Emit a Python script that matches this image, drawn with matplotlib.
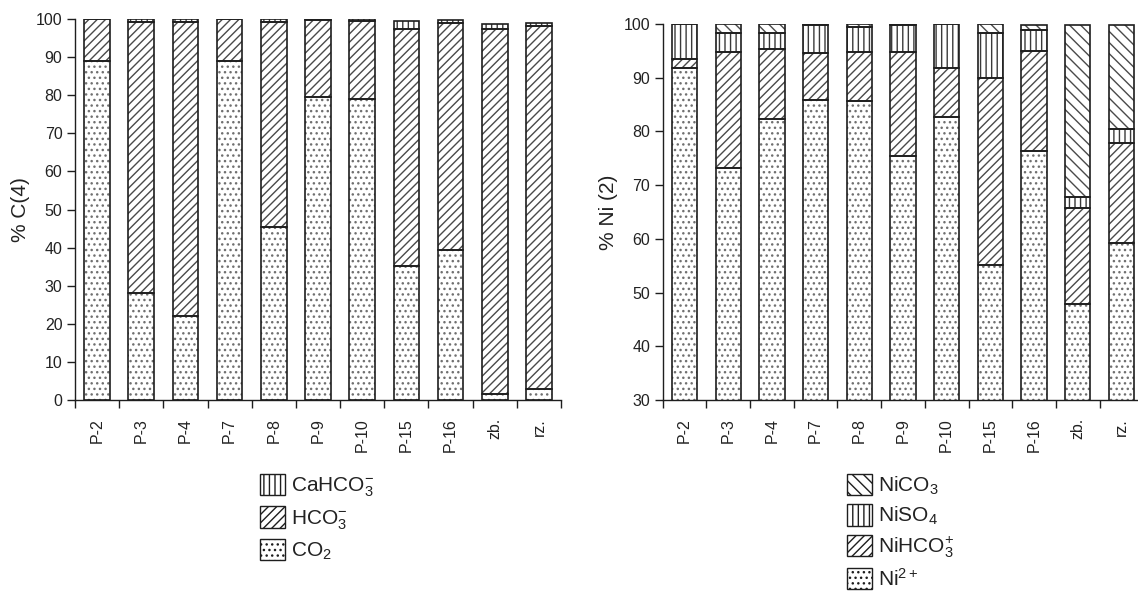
import matplotlib
matplotlib.use("Agg")
import matplotlib.pyplot as plt
from matplotlib.patches import Patch
import numpy as np

plt.rcParams['font.family'] = ['Liberation Sans', 'DejaVu Sans']
plt.rcParams['mathtext.fontset'] = 'custom'
plt.rcParams['mathtext.rm'] = 'Liberation Sans'
plt.rcParams['mathtext.it'] = 'Liberation Sans:italic'
plt.rcParams['hatch.linewidth'] = 1.0

# --- data ---
samples = ['P-2', 'P-3', 'P-4', 'P-7', 'P-8', 'P-9', 'P-10', 'P-15', 'P-16', 'zb.', 'rz.']

# left panel: % C(4)
co2 = [89.0, 28.0, 22.0, 89.0, 45.5, 79.5, 79.0, 35.2, 39.4, 1.6, 3.0]
hco3 = [11.0, 71.3, 77.3, 11.0, 53.8, 20.2, 20.5, 62.3, 59.5, 95.9, 95.2]
cahco3 = [0.0, 0.6, 0.6, 0.0, 0.6, 0.3, 0.5, 2.0, 0.9, 1.1, 0.8]

# right panel: % Ni(2)
ni2 = [91.8, 73.1, 82.3, 85.9, 85.6, 75.5, 82.6, 55.1, 76.4, 47.8, 59.3]
nihco3 = [1.7, 21.6, 13.0, 8.6, 9.1, 19.2, 9.2, 34.9, 18.6, 18.0, 18.6]
niso4 = [6.5, 3.6, 3.0, 5.3, 4.8, 5.1, 8.2, 8.3, 3.9, 1.9, 2.6]
nico3 = [0.0, 1.7, 1.7, 0.2, 0.5, 0.2, 0.0, 1.7, 0.9, 32.1, 19.3]

left_labels = ['CO$_2$', 'HCO$_3^{-}$', 'CaHCO$_3^{-}$']
right_labels = ['Ni$^{2+}$', 'NiHCO$_3^{+}$', 'NiSO$_4$', 'NiCO$_3$']

DOTS = '...'
DIAG = '////'
VERT = '|||'
BACK = '\\\\\\'

# hatch colour per pattern: dots are lighter grey in the original
HATCH_COLS = {DOTS: '#707070', DIAG: '#4a4a4a', VERT: '#3a3a3a', BACK: '#4a4a4a'}
EDGE_COL = '#1e1e1e'
TEXT_COL = '#222222'
BAR_W = 0.58


def stacked(ax, series, hatches):
    x = np.arange(len(samples))
    bottom = np.zeros(len(samples))
    for vals, h in zip(series, hatches):
        vals = np.asarray(vals)
        # hatch layer (grey) then black outline on top
        ax.bar(x, vals, BAR_W, bottom=bottom, color='white', edgecolor=HATCH_COLS[h],
               hatch=h, linewidth=0, zorder=2)
        ax.bar(x, vals, BAR_W, bottom=bottom, fill=False, edgecolor=EDGE_COL,
               linewidth=1.2, zorder=3)
        bottom += vals


def style_axes(ax, ylo, ylabel):
    ax.set_xlim(-0.5, len(samples) - 0.5)
    ax.set_ylim(ylo, 100)
    ax.set_yticks(np.arange(ylo, 101, 10))
    ax.set_xticks(np.arange(len(samples) + 1) - 0.5)
    ax.set_xticklabels([])
    ax.set_xticks(np.arange(len(samples)), minor=True)
    ax.set_xticklabels(samples, minor=True, rotation=90, fontsize=11.5, color=TEXT_COL)
    ax.tick_params(axis='x', which='major', direction='out', length=6, width=1, color=EDGE_COL)
    ax.tick_params(axis='x', which='minor', length=0, pad=13)
    ax.tick_params(axis='y', direction='out', length=6, width=1, color=EDGE_COL,
                   labelsize=11.5, labelcolor=TEXT_COL, pad=3)
    for s in ('top', 'right'):
        ax.spines[s].set_visible(False)
    for s in ('left', 'bottom'):
        ax.spines[s].set_color(EDGE_COL)
        ax.spines[s].set_linewidth(1.0)
    ax.set_ylabel(ylabel, fontsize=15, color=TEXT_COL, labelpad=4)


fig = plt.figure(figsize=(11.38, 5.99), dpi=100)

ax1 = fig.add_axes([0.0659, 0.3322, 0.4271, 0.636])
stacked(ax1, [co2, hco3, cahco3], [DOTS, DIAG, VERT])
style_axes(ax1, 0, '% C(4)')

ax2 = fig.add_axes([0.5823, 0.3322, 0.4224, 0.628])
stacked(ax2, [ni2, nihco3, niso4, nico3], [DOTS, DIAG, VERT, BACK])
style_axes(ax2, 30, '% Ni (2)')


def legend_handles(hatches):
    return [Patch(facecolor='white', edgecolor=EDGE_COL, hatch=h, linewidth=1.0) for h in hatches]


leg_kw = dict(loc='upper left', frameon=False, fontsize=15, handlelength=1.2,
              handleheight=1.2, handletextpad=0.3, labelspacing=0.35, borderpad=0,
              borderaxespad=0, labelcolor=TEXT_COL)

fig.legend(legend_handles([VERT, DIAG, DOTS]), left_labels[::-1],
           bbox_to_anchor=(260 / 1138, 1 - 474 / 599), **leg_kw)
fig.legend(legend_handles([BACK, VERT, DIAG, DOTS]), right_labels[::-1],
           bbox_to_anchor=(847 / 1138, 1 - 474 / 599), **leg_kw)

fig.savefig('out.png', dpi=100, facecolor='white')
